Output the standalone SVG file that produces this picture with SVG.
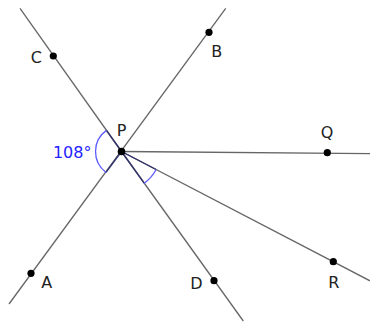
<svg xmlns="http://www.w3.org/2000/svg" width="370" height="322" viewBox="0 0 370 322">
<style>
.ln{stroke:#666;stroke-width:1.3;fill:none;stroke-linecap:butt}
.side{stroke:#33336e;stroke-width:1.4;fill:none}
.arc{stroke:#5c5cff;stroke-width:1.3;fill:none}
.dot{fill:#000}
.lbl{font-family:"DejaVu Sans",sans-serif;font-size:16px;fill:#222;text-anchor:middle}
.ang{font-family:"DejaVu Sans",sans-serif;font-size:16px;fill:#2323ff;text-anchor:middle}
</style>
<rect width="370" height="322" fill="#fff"/>
<g id="connectors">
<line class="ln" x1="121.5" y1="151.5" x2="20" y2="8.3"/>
<line class="ln" x1="121.5" y1="151.5" x2="243.3" y2="321"/>
<line class="ln" x1="225.7" y1="8.3" x2="9" y2="304"/>
<line class="ln" x1="121.5" y1="151.5" x2="370" y2="153.6"/>
<line class="ln" x1="121.5" y1="151.5" x2="370" y2="280.8"/>
</g>
<g id="angle-APC">
<line class="side" x1="121.5" y1="151.5" x2="106.4" y2="130.4"/>
<line class="side" x1="121.5" y1="151.5" x2="106" y2="172.4"/>
<path class="arc" d="M106.4 130.4 A26 26 0 0 0 106 172.4"/>
<text class="ang" x="72.2" y="157.7">108°</text>
</g>
<g id="angle-DPR">
<line class="side" x1="121.5" y1="151.5" x2="144.2" y2="183.2"/>
<line class="side" x1="121.5" y1="151.5" x2="156.1" y2="169.5"/>
<path class="arc" d="M144.2 183.2 A39 39 0 0 0 156.1 169.5"/>
</g>
<g id="P"><circle class="dot" cx="121.5" cy="151.5" r="3.8"/><text class="lbl" x="121.7" y="136">P</text></g>
<g id="C"><circle class="dot" cx="53.3" cy="56" r="3.6"/><text class="lbl" x="36.3" y="62.7">C</text></g>
<g id="B"><circle class="dot" cx="209" cy="32.3" r="3.6"/><text class="lbl" x="216.8" y="57.3">B</text></g>
<g id="Q"><circle class="dot" cx="327.3" cy="152.7" r="3.6"/><text class="lbl" x="327" y="138.4">Q</text></g>
<g id="R"><circle class="dot" cx="333.3" cy="261.7" r="3.6"/><text class="lbl" x="333.8" y="287.7">R</text></g>
<g id="D"><circle class="dot" cx="214" cy="280.7" r="3.6"/><text class="lbl" x="196.3" y="289">D</text></g>
<g id="A"><circle class="dot" cx="31" cy="273.3" r="3.6"/><text class="lbl" x="46.7" y="287.7">A</text></g>
</svg>
